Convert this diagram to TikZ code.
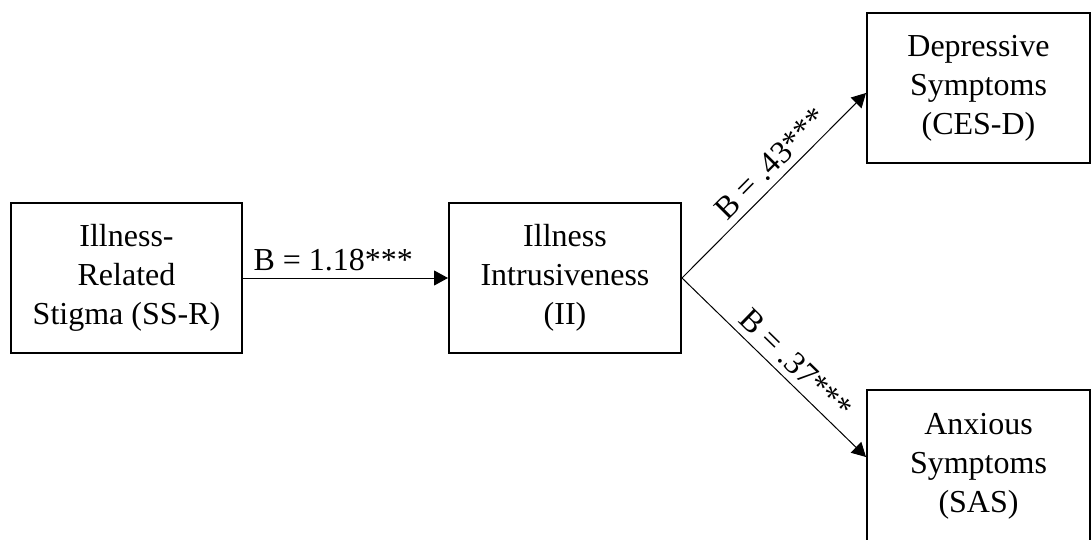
\documentclass[tikz,border=0pt]{standalone}
\usepackage{fontspec}
\setmainfont{Liberation Serif}
\usepackage{tikz}
\usetikzlibrary{arrows.meta, positioning}

\begin{document}
\begin{tikzpicture}[x=0.5pt, y=-0.5pt,
		every node/.style={font=\fontsize{16}{19.5}\selectfont},
		box/.style={draw, line width=1pt, align=center, inner sep=0pt},
		path/.style={line width=0.5pt, -{Triangle[length=7pt, width=7.5pt]}}]
				% Frame
				\clip (0,0) rectangle (1092,540);
				
				% Boxes
				\node[box, minimum width=115.5pt, minimum height=75pt] (stigma) at (126.5,278) {Illness-\\Related\\Stigma (SS-R)};
				\node[box, minimum width=116pt, minimum height=75pt] (intrus) at (565,278) {Illness\\Intrusiveness\\(II)};
				\node[box, minimum width=111.5pt, minimum height=75pt] (depress) at (978.5,88) {Depressive\\Symptoms\\(CES-D)};
				\node[box, minimum width=111.5pt, minimum height=76pt] (anxious) at (978.5,466) {Anxious\\Symptoms\\(SAS)};
				
				% Paths
				\draw[path] (stigma.east) -- (intrus.west) node[above, pos=.44] {B = 1.18***};
				\draw[path] (intrus.east) -- ([yshift=-2.5pt]depress.west) node[sloped, above, pos=.55] {B = .43***};
				\draw[path] (intrus.east) -- ([yshift=4.5pt]anxious.west) node[sloped, above, pos=.55] {B = .37***};
			\end{tikzpicture}
\end{document}
